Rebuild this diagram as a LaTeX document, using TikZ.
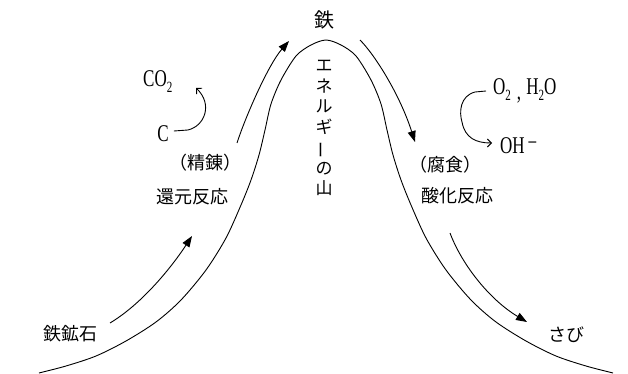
\documentclass[tikz,border=0pt]{standalone}
\usepackage{fontspec}
\setmainfont{Liberation Serif}
\newfontfamily\jp{Noto Sans CJK JP}
\usetikzlibrary{arrows.meta}
\newcommand{\chsub}[1]{\raisebox{-5pt}{\fontsize{13}{13}\selectfont #1}}
\begin{document}
\begin{tikzpicture}[x=1pt,y=-1pt,
  curve/.style={line width=0.9pt},
  bigarrow/.style={line width=0.9pt,-{Triangle[length=11pt,width=8pt]}},
  smallarrow/.style={line width=0.9pt,-{Straight Barb[length=4pt,width=8pt]}},
  jtext/.style={font=\jp\fontsize{18}{22}\selectfont,inner sep=0pt},
  chem/.style={font=\fontsize{20}{22}\selectfont,inner sep=0pt}]
\useasboundingbox (0,0) rectangle (628,374);
\fill[white] (0,0) rectangle (628,374);
% mountain curve
\draw[curve] plot[smooth,tension=0.5] coordinates {(39,373) (66,366) (96,356) (126,341) (156,322) (181,300) (206,270) (226,238) (241,205) (251,180) (259,155) (265,130) (271,104) (281,80) (296,56) (311,45) (326,40) (341,45) (356,56) (371,80) (381,104) (387,130) (393,155) (401,180) (411,205) (426,238) (446,270) (471,300) (496,322) (526,341) (556,356) (586,366) (613,373)};
% labels
\node[jtext,font=\jp\fontsize{20}{22}\selectfont] (tetsu) at (324,20) {鉄};
\node[jtext,font=\jp\fontsize{17}{20.5}\selectfont,align=center] (yama) at (324,128) {エ\\ネ\\ル\\ギ\\\rotatebox[origin=c]{90}{ー}\\の\\山};
\node[jtext] (ore) at (70,334) {鉄鉱石};
\node[jtext] (seiren) at (205,163) {（精錬）};
\node[jtext] (kangen) at (192,197) {還元反応};
\node[jtext] (fushoku) at (445,165) {（腐食）};
\node[jtext] (sanka) at (457,196) {酸化反応};
\node[jtext] (sabi) at (566,335) {さび};
\node[chem,anchor=west] (co2) at (143,82) {\scalebox{0.85}[1.2]{CO\chsub{2}}};
\node[chem] (c) at (163,134) {\scalebox{0.85}[1.2]{C}};
\node[chem,anchor=west] (o2) at (493,91) {\scalebox{0.85}[1.2]{O\chsub{2}\hspace{7pt}\raisebox{-4pt}{,}\hspace{6pt}H\chsub{2}O}};
\node[chem,anchor=west] (oh) at (500,146) {\scalebox{0.85}[1.2]{OH\,\raisebox{3pt}{−}}};
% coordinates for the process arrows
\coordinate (a1s) at (110,323); \coordinate (a1e) at (192,236);
\coordinate (a2s) at (237,143); \coordinate (a2e) at (289,41);
\coordinate (a3s) at (360,40);  \coordinate (a3e) at (415,142);
\coordinate (a4s) at (450,233); \coordinate (a4e) at (527,322);
\draw[bigarrow] (a1s) .. controls (145,302) and (175,262) .. (a1e);
\draw[bigarrow] (a2s) .. controls (245,118) and (268,65) .. (a2e);
\draw[bigarrow] (a3s) .. controls (375,55) and (400,95) .. (a3e);
\draw[bigarrow] (a4s) .. controls (462,265) and (490,300) .. (a4e);
% small reaction arrows
\draw[smallarrow] (c.east) ++(5,-3) -- ++(14,-1) .. controls (205,126) and (213,104) .. (196,88);
\draw[smallarrow] (o2.west) ++(-7,0) -- ++(-11,1) .. controls (460,96) and (459,112) .. (462,122) .. controls (465,138) and (476,143) .. (492,143);
\end{tikzpicture}
\end{document}
